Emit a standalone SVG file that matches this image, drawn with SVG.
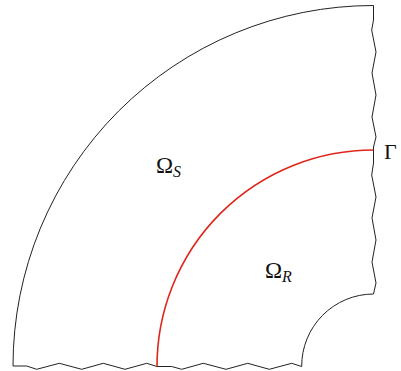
<svg xmlns="http://www.w3.org/2000/svg" width="401" height="371" viewBox="0 0 401 371">
<style>
.ln{fill:none;stroke:#222;stroke-width:1;stroke-linejoin:miter}
.red{fill:none;stroke:#e0251b;stroke-width:1.6}
.t{font-family:"Liberation Serif","Times New Roman",serif;fill:#111}
.it{font-style:italic}
</style>
<rect width="401" height="371" fill="#fff"/>
<g id="domain">
<path class="ln" d="M 13 366 A 360.5 360.5 0 0 1 373.5 5.5 L 373.5 20 L 371.7 30 L 376 52 L 372 73 L 376 95 L 372 117 L 376 137 L 373.5 147 L 373.5 163 L 371.7 175 L 376 197 L 372 218 L 376 240 L 372 262 L 376 283 L 373.5 294 A 72 72 0 0 0 301.7 366.5 L 291.7 363.3 L 269.3 369.3 L 247.7 363.3 L 226 369.3 L 203.3 363.3 L 181.7 369.3 L 171.7 366.5 L 157 366.5 L 146.7 363.3 L 125 369.3 L 103.3 363.3 L 81.7 369.3 L 59.3 363.3 L 36.7 369.3 L 26.7 366 Z"/>
</g>
<g id="interface">
<path class="red" d="M 157 366.5 A 216.5 216.5 0 0 1 373.5 150"/>
</g>
<g id="labels">
<text class="t" x="384" y="158.5" font-size="22">Γ</text>
<text class="t" x="156" y="173" font-size="23">Ω<tspan class="it" font-size="16" dy="4">S</tspan></text>
<text class="t" x="265" y="278" font-size="23">Ω<tspan class="it" font-size="16" dy="4">R</tspan></text>
</g>
</svg>
